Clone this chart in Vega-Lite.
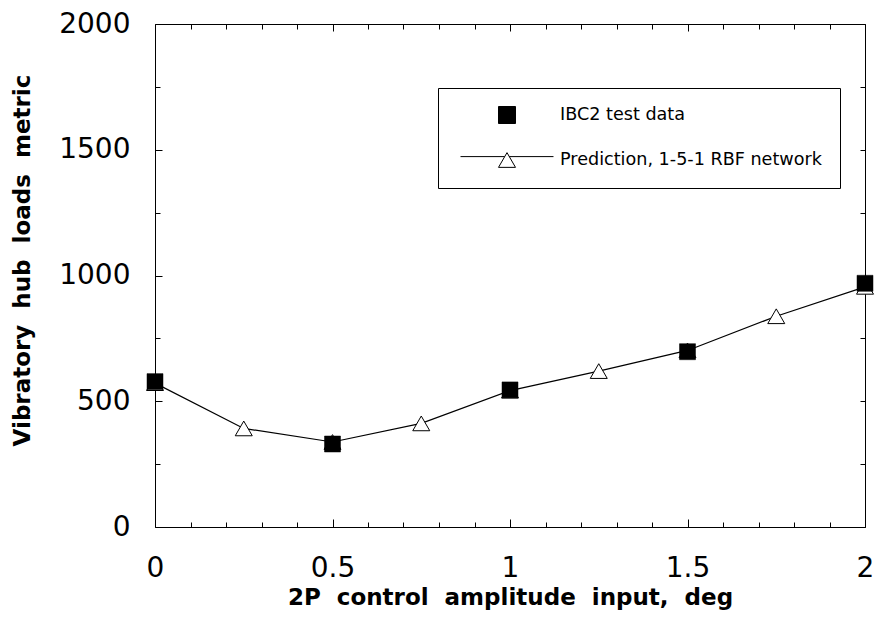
{
  "$schema": "https://vega.github.io/schema/vega-lite/v6.json",
  "width": 710,
  "height": 503,
  "autosize": {"type": "none"},
  "padding": {"left": 155, "top": 24, "right": 15, "bottom": 98},
  "background": "white",
  "config": {
    "view": {"stroke": "black", "strokeWidth": 1},
    "axis": {
      "grid": false,
      "domain": false,
      "tickColor": "black",
      "tickWidth": 1,
      "labelFont": "DejaVu Sans",
      "labelFontSize": 28,
      "labelColor": "black",
      "titleFont": "DejaVu Sans",
      "titleFontSize": 23,
      "titleFontWeight": "bold",
      "titleColor": "black"
    }
  },
  "data": {
    "values": [
      {"x": 0, "y": 578, "series": "IBC2 test data"},
      {"x": 0.5, "y": 330, "series": "IBC2 test data"},
      {"x": 1, "y": 545, "series": "IBC2 test data"},
      {"x": 1.5, "y": 697, "series": "IBC2 test data"},
      {"x": 2, "y": 969, "series": "IBC2 test data"},
      {"x": 0, "y": 572, "series": "Prediction, 1-5-1 RBF network"},
      {"x": 0.25, "y": 392, "series": "Prediction, 1-5-1 RBF network"},
      {"x": 0.5, "y": 338, "series": "Prediction, 1-5-1 RBF network"},
      {"x": 0.75, "y": 412, "series": "Prediction, 1-5-1 RBF network"},
      {"x": 1, "y": 542, "series": "Prediction, 1-5-1 RBF network"},
      {"x": 1.25, "y": 620, "series": "Prediction, 1-5-1 RBF network"},
      {"x": 1.5, "y": 702, "series": "Prediction, 1-5-1 RBF network"},
      {"x": 1.75, "y": 838, "series": "Prediction, 1-5-1 RBF network"},
      {"x": 2, "y": 955, "series": "Prediction, 1-5-1 RBF network"}
    ]
  },
  "layer": [
    {
      "transform": [{"filter": "datum.series === 'Prediction, 1-5-1 RBF network'"}],
      "mark": {"type": "line", "color": "black", "strokeWidth": 1.2},
      "encoding": {
        "x": {
          "field": "x", "type": "quantitative",
          "scale": {"domain": [0, 2], "nice": false, "zero": false},
          "axis": {
            "orient": "bottom",
            "values": [0, 0.1, 0.2, 0.3, 0.4, 0.5, 0.6, 0.7, 0.8, 0.9, 1, 1.1, 1.2, 1.3, 1.4, 1.5, 1.6, 1.7, 1.8, 1.9, 2],
            "labelExpr": "datum.value % 0.5 === 0 ? '' + datum.value : ''",
            "tickSize": {"condition": {"test": "datum.value % 0.5 === 0", "value": -8}, "value": -5},
            "labelPadding": 57,
            "labelBaseline": "alphabetic",
            "labelFlush": false,
            "labelOverlap": false,
            "title": "2P\u00a0 control\u00a0 amplitude\u00a0 input,\u00a0 deg",
            "titleX": 355,
            "titleY": 77,
            "titleBaseline": "alphabetic",
            "titleAlign": "center"
          }
        },
        "y": {
          "field": "y", "type": "quantitative",
          "scale": {"domain": [0, 2000], "nice": false, "zero": true},
          "axis": {
            "orient": "left",
            "values": [0, 250, 500, 750, 1000, 1250, 1500, 1750, 2000],
            "labelExpr": "datum.value % 500 === 0 ? '' + datum.value : ''",
            "tickSize": {"condition": {"test": "datum.value % 500 === 0", "value": -7}, "value": -5},
            "labelPadding": 32,
            "labelFlush": false,
            "labelOverlap": false,
            "title": "Vibratory\u00a0 hub\u00a0 loads\u00a0 metric",
            "titleAngle": -90,
            "titleX": -126,
            "titleY": 236,
            "titleBaseline": "alphabetic",
            "titleAlign": "center"
          }
        }
      }
    },
    {
      "transform": [{"filter": "datum.series === 'Prediction, 1-5-1 RBF network'"}],
      "mark": {"type": "point", "shape": "triangle-up", "filled": true, "fill": "white", "size": 289, "stroke": "black", "strokeWidth": 1, "opacity": 1},
      "encoding": {
        "x": {
          "field": "x", "type": "quantitative",
          "axis": {
            "orient": "top",
            "values": [0, 0.1, 0.2, 0.3, 0.4, 0.5, 0.6, 0.7, 0.8, 0.9, 1, 1.1, 1.2, 1.3, 1.4, 1.5, 1.6, 1.7, 1.8, 1.9, 2],
            "labels": false,
            "tickSize": {"condition": {"test": "datum.value % 0.5 === 0", "value": -7}, "value": -5},
            "title": null
          }
        },
        "y": {
          "field": "y", "type": "quantitative",
          "axis": {
            "orient": "right",
            "values": [0, 250, 500, 750, 1000, 1250, 1500, 1750, 2000],
            "labels": false,
            "tickSize": -5,
            "title": null
          }
        }
      }
    },
    {
      "transform": [{"filter": "datum.series === 'IBC2 test data'"}],
      "mark": {"type": "point", "shape": "square", "filled": true, "fill": "black", "size": 256, "stroke": "black", "strokeWidth": 0.5, "opacity": 1},
      "encoding": {
        "x": {"field": "x", "type": "quantitative", "axis": null},
        "y": {"field": "y", "type": "quantitative", "axis": null}
      }
    },
    {
      "mark": {"type": "point", "filled": true, "size": 0, "stroke": "black", "strokeWidth": 1, "opacity": 1},
      "encoding": {
        "x": {"field": "x", "type": "quantitative", "axis": null},
        "y": {"field": "y", "type": "quantitative", "axis": null},
        "fill": {
          "field": "series", "type": "nominal",
          "scale": {"domain": ["IBC2 test data", "Prediction, 1-5-1 RBF network"], "range": ["black", "white"]},
          "legend": {
            "title": null,
            "orient": "none",
            "legendX": 283,
            "legendY": 64,
            "strokeColor": "black",
            "fillColor": "white",
            "padding": 18,
            "symbolOffset": 42,
            "symbolSize": 289,
            "symbolStrokeColor": "black",
            "symbolStrokeWidth": 1,
            "labelFont": "DejaVu Sans",
            "labelFontSize": 17.6,
            "labelColor": "black",
            "labelOffset": 44,
            "labelLimit": 400,
            "rowPadding": 24
          }
        },
        "shape": {
          "field": "series", "type": "nominal",
          "scale": {"domain": ["IBC2 test data", "Prediction, 1-5-1 RBF network"], "range": ["square", "M-5.47,-0.4H-0.27M0.27,-0.4H5.47M0,-0.866L1,0.866H-1Z"]}
        }
      }
    }
  ],
  "resolve": {"axis": {"x": "independent", "y": "independent"}}
}
